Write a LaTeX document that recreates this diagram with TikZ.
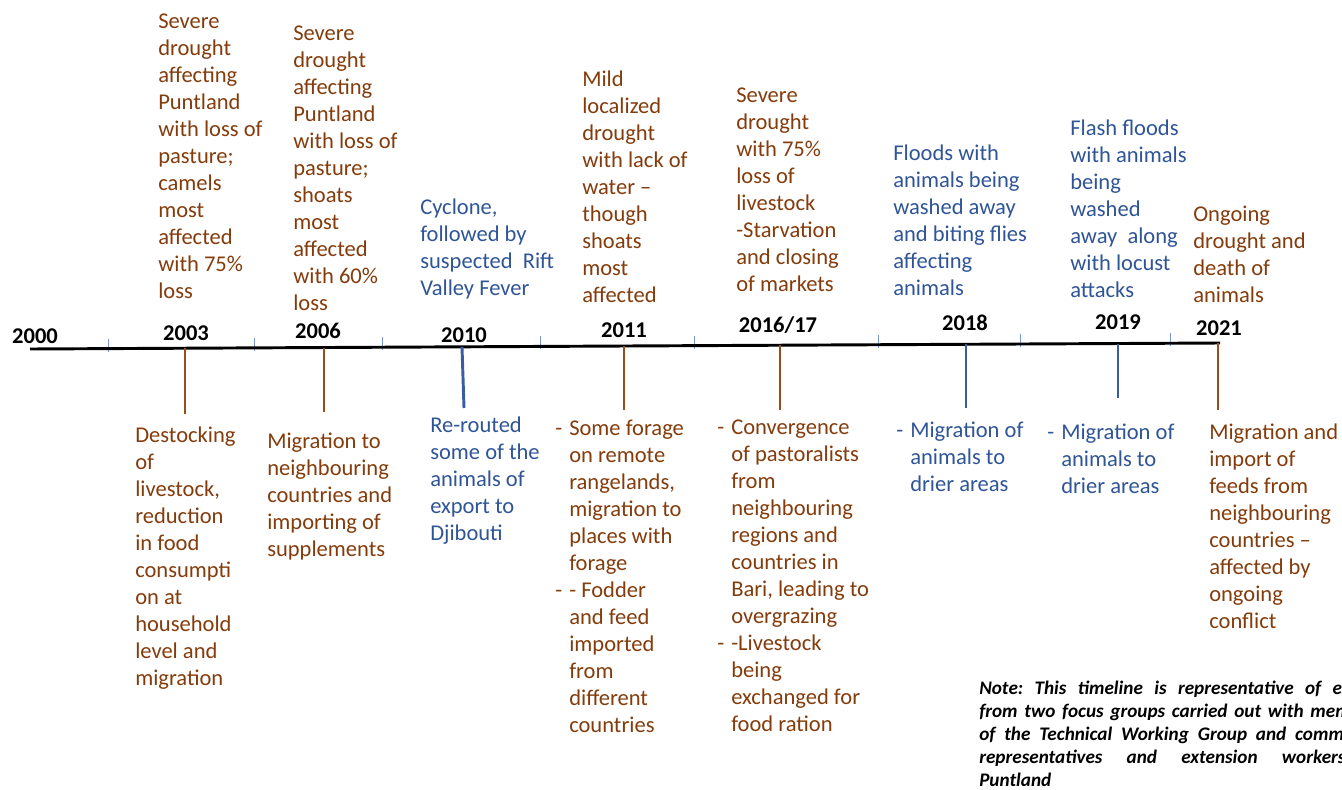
\documentclass[tikz,border=0pt]{standalone}
\usepackage{fontspec}
\setmainfont{Carlito}

\definecolor{drybrown}{RGB}{132,60,12}
\definecolor{wetblue}{RGB}{47,85,151}
\definecolor{stembrown}{RGB}{150,78,28}
\definecolor{stemblue}{RGB}{58,93,160}
\definecolor{tickblue}{RGB}{120,150,210}

\newcommand{\dashmark}{\llap{\makebox[10.5pt][l]{-}}}

\tikzset{
  evt/.style={anchor=north west, yshift=10.4pt, align=left, inner sep=0pt,
              font=\fontsize{16.9}{20.25}\selectfont, execute at begin node=\strut},
  year/.style={inner sep=0pt, font=\fontsize{16.9}{20.25}\selectfont\bfseries},
  stem/.style={line width=2.2pt},
}

\begin{document}
\begin{tikzpicture}[x=0.75pt, y=-0.75pt]
    \useasboundingbox (0,0) rectangle (1342,789);
    \fill[white] (0,0) rectangle (1342,789);

    % axis
    \coordinate (tstart) at (30,349);
    \coordinate (tend) at (1220,343);
    \foreach \x in {108,254,382,540,694,878,1020,1170}
        \draw[tickblue, line width=0.5pt] (\x,{349-6*(\x-30)/1190-10}) -- ++(0,13);
    \draw[line width=2.2pt] (tstart) -- (tend);

    % stems
    \foreach \nm/\x/\xb/\yb/\col in {2003/185/185/414/stembrown, 2006/324/324/412/stembrown,
        2010/462/464/408/stemblue, 2011/624/624/410/stembrown, 2016/780/780/410/stembrown,
        2018/966/966/408/stemblue, 2019/1118/1118/398/stemblue, 2021/1218/1218/410/stembrown} {
        \coordinate (top\nm) at (\x,{349-6*(\x-30)/1190});
        \coordinate (bot\nm) at (\xb,\yb);
        \draw[stem, \col] (top\nm) -- (bot\nm);
    }

    % years
    \node[year] (y2000) at (35,336) {2000};
    \node[year] (y2003) at (186,333) {2003};
    \node[year] (y2006) at (318,331) {2006};
    \node[year] (y2010) at (464,335) {2010};
    \node[year] (y2011) at (624,330) {2011};
    \node[year] (y2016) at (778,325) {2016/17};
    \node[year] (y2018) at (965,323) {2018};
    \node[year] (y2019) at (1118,322) {2019};
    \node[year] (y2021) at (1219,328) {2021};

    % events above
    \node[evt, drybrown] (t2003) at (158,27) {Severe\\drought\\affecting\\Puntland\\with loss of\\pasture;\\camels\\most\\affected\\with 75\%\\loss};
    \node[evt, drybrown] (t2006) at (293,39) {Severe\\drought\\affecting\\Puntland\\with loss of\\pasture;\\shoats\\most\\affected\\with 60\%\\loss};
    \node[evt, wetblue] (t2010) at (420,212) {Cyclone,\\followed by\\suspected\ \ Rift\\Valley Fever};
    \node[evt, drybrown] (t2011) at (582,84) {Mild\\localized\\drought\\with lack of\\water –\\though\\shoats\\most\\affected};
    \node[evt, drybrown] (t2016) at (736,101) {Severe\\drought\\with 75\%\\loss of\\livestock\\-Starvation\\and closing\\of markets};
    \node[evt, wetblue] (t2018) at (893,158) {Floods with\\animals being\\washed away\\and biting flies\\affecting\\animals};
    \node[evt, wetblue] (t2019) at (1070,133) {Flash floods\\with animals\\being\\washed\\away\ \ along\\with locust\\attacks};
    \node[evt, drybrown] (t2021) at (1193,220) {Ongoing\\drought and\\death of\\animals};

    % responses below
    \node[evt, drybrown] (b2003) at (135,440) {Destocking\\of\\livestock,\\reduction\\in food\\consumpti\\on at\\household\\level and\\migration};
    \node[evt, drybrown] (b2006) at (267,447) {Migration to\\neighbouring\\countries and\\importing of\\supplements};
    \node[evt, wetblue] (b2010) at (430,430) {Re-routed\\some of the\\animals of\\export to\\Djibouti};
    \node[evt, drybrown] (b2011) at (569,434) {\dashmark Some forage\\on remote\\rangelands,\\migration to\\places with\\forage\\\dashmark - Fodder\\and feed\\imported\\from\\different\\countries};
    \node[evt, drybrown] (b2016) at (731,433) {\dashmark Convergence\\of pastoralists\\from\\neighbouring\\regions and\\countries in\\Bari, leading to\\overgrazing\\\dashmark -Livestock\\being\\exchanged for\\food ration};
    \node[evt, wetblue] (b2018) at (910,436) {\dashmark Migration of\\animals to\\drier areas};
    \node[evt, wetblue] (b2019) at (1061,438) {\dashmark Migration of\\animals to\\drier areas};
    \node[evt, drybrown] (b2021) at (1209,437) {Migration and\\import of\\feeds from\\neighbouring\\countries –\\affected by\\ongoing\\conflict};

    % note
    \begin{scope}
        \clip (0,0) rectangle (1342,789);
        \node[anchor=base west, align=justify, text width=304pt, inner sep=0pt,
              font=\fontsize{14.4}{17.25}\selectfont\bfseries\itshape\frenchspacing] (note) at (979,694)
            {Note: This timeline is representative of events\linebreak
             from two focus groups carried out with members\linebreak
             of the Technical Working Group and community\linebreak
             representatives and extension workers in\linebreak
             Puntland};
    \end{scope}

\end{tikzpicture}
\end{document}
